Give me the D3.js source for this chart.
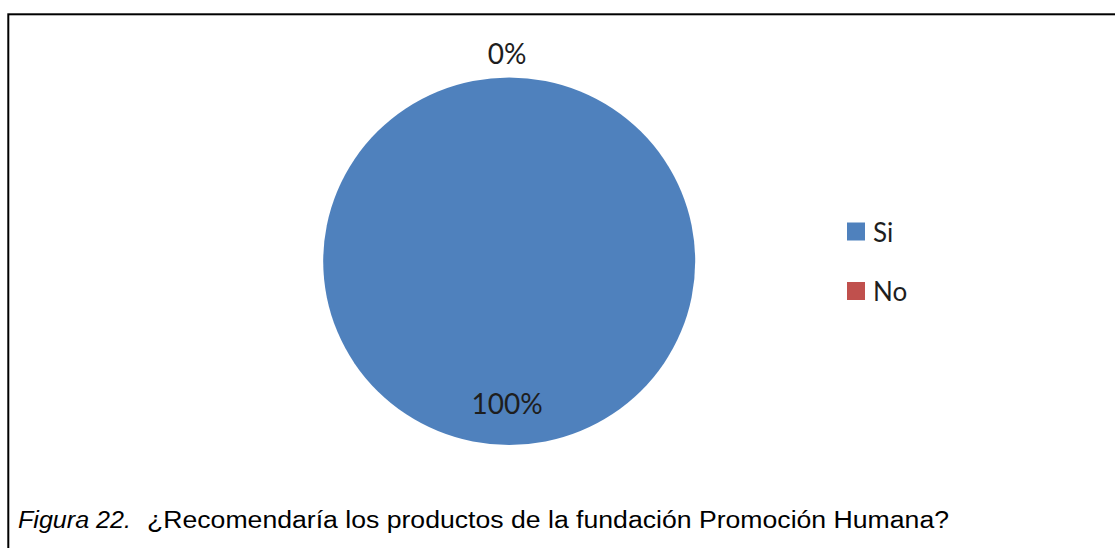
<!DOCTYPE html>
<html>
<head>
<meta charset="utf-8">
<script src="https://cdn.jsdelivr.net/npm/d3@7"></script>
<style>
  html, body { margin: 0; padding: 0; background: #ffffff; }
  svg { display: block; }
</style>
</head>
<body>
<svg id="chart" width="1115" height="548"></svg>
<script>
// Survey answers and their shares
const categories = ["Si", "No"];
const values = [100, 0];
const colors = ["#4F81BD", "#C0504D"];
const captionLabel = "Figura 22.";
const captionText = "¿Recomendaría los productos de la fundación Promoción Humana?";

const svg = d3.select("#chart");
const W = 1115, H = 548;

// Frame (right and bottom edges run past the visible area)
svg.append("rect")
  .attr("x", 8.3).attr("y", 14.3)
  .attr("width", W + 20).attr("height", H + 20)
  .attr("fill", "none")
  .attr("stroke", "#000")
  .attr("stroke-width", 2);

const cx = 509.2, cy = 261.3, R = 186;
const total = d3.sum(values);

const pie = d3.pie().sort(null).value(d => d.value);
const arcs = pie(categories.map((c, i) => ({ name: c, value: values[i], color: colors[i] })));

const arc = d3.arc().innerRadius(0).outerRadius(R);

const g = svg.append("g")
  .attr("transform", `translate(${cx},${cy}) scale(1,0.988)`);

g.selectAll("path")
  .data(arcs)
  .join("path")
  .attr("d", arc)
  .attr("fill", d => d.data.color);

// Percentage labels: inside for the filled slice, outside for an empty one
const labelArcIn = d3.arc().innerRadius(R * 0.762).outerRadius(R * 0.762);
const labelArcOut = d3.arc().innerRadius(R + 22).outerRadius(R + 22);
const fmt = d3.format(".0%");

svg.append("g")
  .attr("transform", `translate(${cx},${cy})`)
  .selectAll("text")
  .data(arcs)
  .join("text")
  .attr("transform", d => {
    const a = d.value === 0 ? labelArcOut : labelArcIn;
    const [x, y] = a.centroid(d);
    return `translate(${x - 2},${y})`;
  })
  .attr("text-anchor", "middle")
  .attr("dominant-baseline", "central")
  .attr("font-family", "Lato, 'Open Sans', sans-serif")
  .attr("font-size", 28)
  .attr("fill", "#1e1e1e")
  .text(d => fmt(d.data.value / total));

// Legend
const legend = svg.append("g").attr("transform", "translate(847,0)");
const ly = d3.scalePoint().domain(categories).range([231.5, 291]);

legend.selectAll("rect")
  .data(categories)
  .join("rect")
  .attr("x", 0)
  .attr("y", d => ly(d) - 9)
  .attr("width", 18)
  .attr("height", 18)
  .attr("fill", (d, i) => colors[i]);

legend.selectAll("text")
  .data(categories)
  .join("text")
  .attr("x", 26)
  .attr("y", d => ly(d))
  .attr("dominant-baseline", "central")
  .attr("font-family", "Lato, 'Open Sans', sans-serif")
  .attr("font-size", 26)
  .attr("fill", "#1e1e1e")
  .text(d => d);

// Caption
svg.append("text")
  .attr("x", 18).attr("y", 527.5)
  .attr("font-family", "'Liberation Sans', Arial, sans-serif")
  .attr("font-size", 23.5)
  .attr("font-style", "italic")
  .attr("fill", "#000")
  .attr("textLength", 113)
  .attr("lengthAdjust", "spacingAndGlyphs")
  .text(captionLabel);

svg.append("text")
  .attr("x", 147).attr("y", 527.5)
  .attr("font-family", "'Liberation Sans', Arial, sans-serif")
  .attr("font-size", 23.5)
  .attr("fill", "#000")
  .attr("textLength", 802)
  .attr("lengthAdjust", "spacingAndGlyphs")
  .text(captionText);
</script>
</body>
</html>
